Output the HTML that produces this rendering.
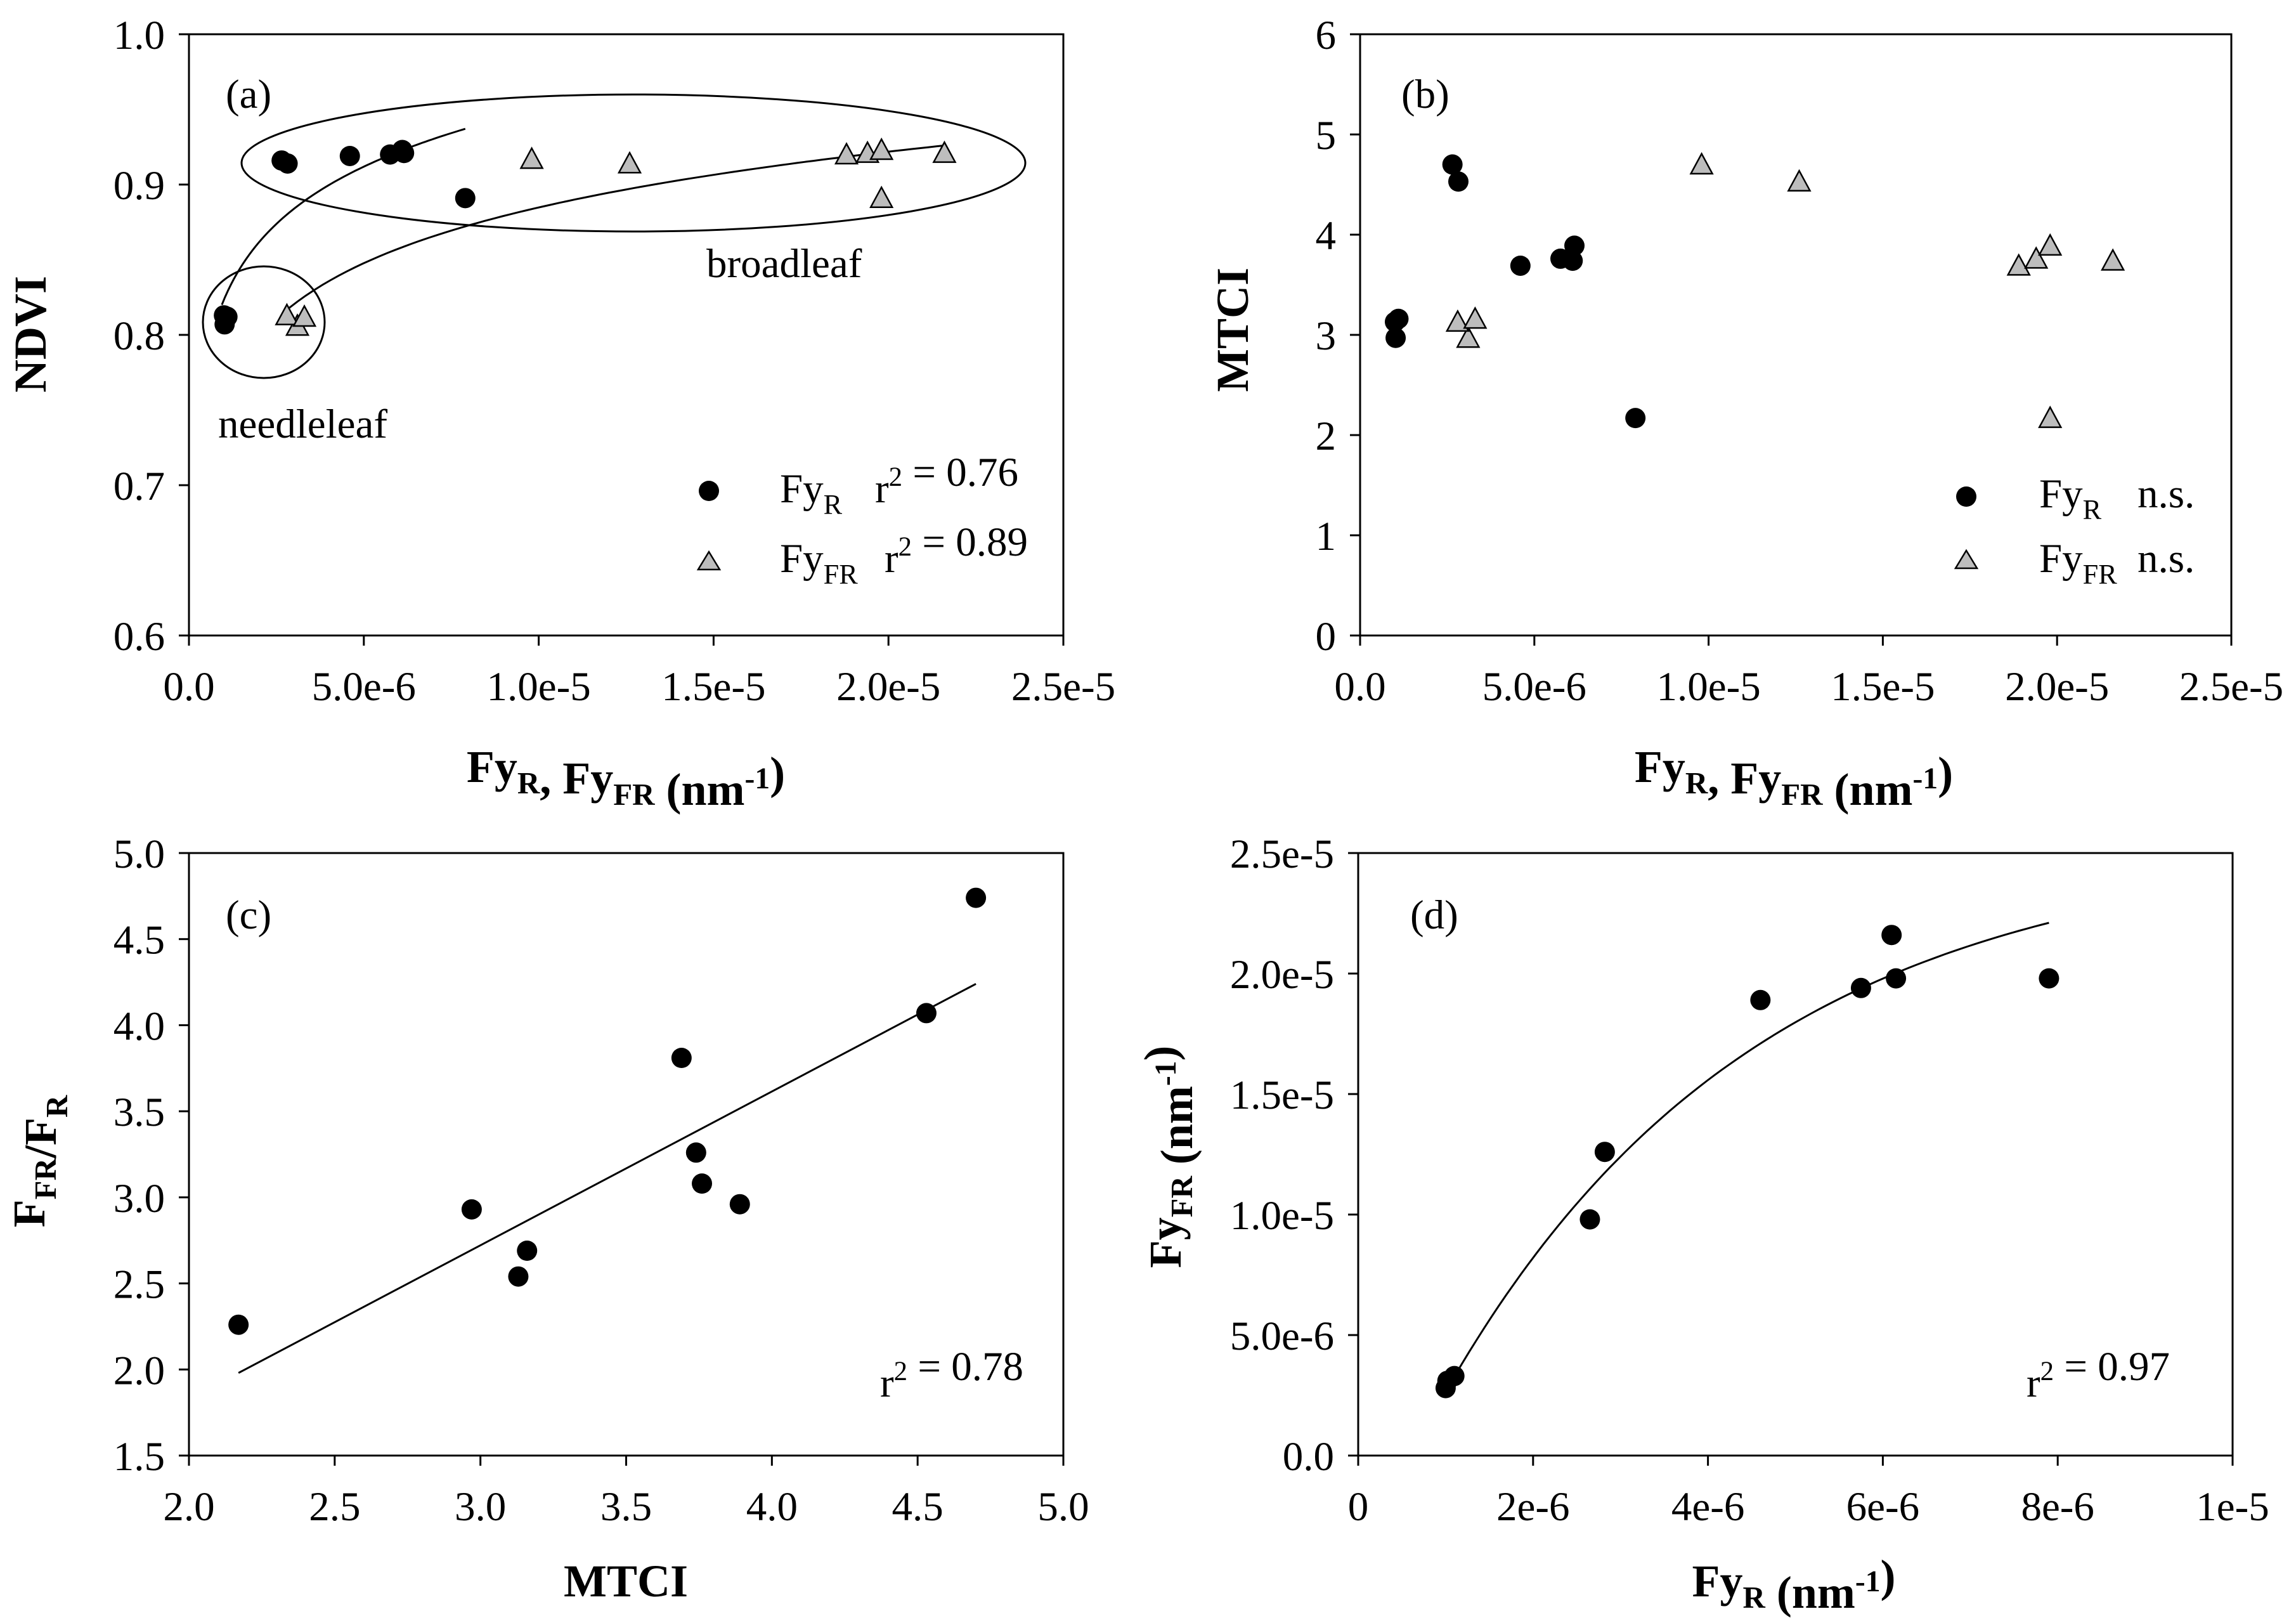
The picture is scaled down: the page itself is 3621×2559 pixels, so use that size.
<!DOCTYPE html>
<html><head><meta charset="utf-8">
<style>
html,body{margin:0;padding:0;background:#fff;}
svg{display:block;font-family:"Liberation Serif",serif;}
</style></head>
<body>
<svg id="fig" width="3621" height="2559" viewBox="0 0 3621 2559" xmlns="http://www.w3.org/2000/svg"></svg>
<script>
// ---- data ----
const fyR = [1.02, 1.0, 1.1, 2.65, 2.82, 4.6, 5.75, 6.15, 6.1, 7.9];           // e-6
const fyFR = [3.1, 2.8, 3.3, 9.8, 12.6, 18.9, 19.4, 19.8, 21.6, 19.8];         // e-6
const ndviR = [0.807, 0.813, 0.812, 0.916, 0.914, 0.919, 0.920, 0.921, 0.923, 0.891];
const ndviFR = [0.806, 0.813, 0.812, 0.917, 0.914, 0.920, 0.921, 0.923, 0.921, 0.891];
const fyFR_a = [3.1, 2.8, 3.3, 9.8, 12.6, 18.8, 19.4, 19.8, 21.6, 19.8];
const mtci = [2.97, 3.13, 3.16, 4.70, 4.53, 3.69, 3.76, 3.89, 3.74, 2.17];
const ratio = [2.93, 2.54, 2.69, 4.74, 4.07, 3.81, 3.08, 2.96, 3.26, 2.26];
const xTicksA = ["0.0","5.0e-6","1.0e-5","1.5e-5","2.0e-5","2.5e-5"];
const yTicksA = ["0.6","0.7","0.8","0.9","1.0"];
const yTicksB = ["0","1","2","3","4","5","6"];
const xTicksC = ["2.0","2.5","3.0","3.5","4.0","4.5","5.0"];
const yTicksC = ["1.5","2.0","2.5","3.0","3.5","4.0","4.5","5.0"];
const xTicksD = ["0","2e-6","4e-6","6e-6","8e-6","1e-5"];
const yTicksD = ["0.0","5.0e-6","1.0e-5","1.5e-5","2.0e-5","2.5e-5"];
// fits
const fitA_R = [0.94, 7.9, 0.820, 0.055];
const fitA_FR = [2.87, 21.6, 0.818, 0.0535];
const fitC = [2.17, 4.70, 1.98, 4.24];
const fitD = [1.1, 7.9, 25.4, 30.1, 0.28];

const NS="http://www.w3.org/2000/svg";
const svg=document.getElementById('fig');
function mk(tag,attrs,parent){const e=document.createElementNS(NS,tag);for(const k in attrs)e.setAttribute(k,attrs[k]);(parent||svg).appendChild(e);return e;}
const FS=65, TS=72;
function panel(id,L,R,T,B,xmin,xmax,ymin,ymax,xt,yt){
  const g=mk('g',{});
  
  
  const sx=v=>L+(v-xmin)/(xmax-xmin)*(R-L);
  const sy=v=>B-(v-ymin)/(ymax-ymin)*(B-T);
  const frame=mk('rect',{x:L,y:T,width:R-L,height:B-T,fill:'none',stroke:'#000','stroke-width':3},g);
  
  
  xt.forEach((lab,i)=>{
    const x=L+i*(R-L)/(xt.length-1);
    mk('line',{x1:x,y1:B,x2:x,y2:B+16,stroke:'#000','stroke-width':3},g);
    const t=mk('text',{x:x,y:B+102,'font-size':FS,'text-anchor':'middle'},g);
    t.textContent=lab;
    
    
  });
  yt.forEach((lab,i)=>{
    const y=B-i*(B-T)/(yt.length-1);
    mk('line',{x1:L-16,y1:y,x2:L,y2:y,stroke:'#000','stroke-width':3},g);
    const t=mk('text',{x:L-38,y:y+23,'font-size':FS,'text-anchor':'end'},g);
    t.textContent=lab;
    
    
  });
  return {g,sx,sy};
}
function circ(p,x,y,r){const c=mk('circle',{cx:p.sx(x),cy:p.sy(y),r:r||16,fill:'#000'},p.g);
  
  return c;}
function tri(p,x,y){const X=p.sx(x),Y=p.sy(y),s=17;
  const t=mk('polygon',{points:`${X},${Y-s} ${X+s},${Y+s*0.85} ${X-s},${Y+s*0.85}`,fill:'#bdbdbd',stroke:'#000','stroke-width':2.5},p.g);
  
  return t;}
function curve(p,f,x0,x1,name){let d='';for(let i=0;i<=80;i++){const x=x0+(x1-x0)*i/80;d+=(i?'L':'M')+p.sx(x).toFixed(1)+','+p.sy(f(x)).toFixed(1);}
  const e=mk('path',{d:d,fill:'none',stroke:'#000','stroke-width':3},p.g);
  
  return e;}
function txt(html,x,y,size,attrs,name){const t=mk('text',Object.assign({x:x,y:y,'font-size':size},attrs||{}));t.innerHTML=html;
  
  return t;}
const sub=(s)=>`<tspan dy="18" font-size="0.68em">${s}</tspan><tspan dy="-18"></tspan>`;
const sup=(s)=>`<tspan dy="-26" font-size="0.66em">${s}</tspan><tspan dy="26"></tspan>`;

// Panel a
const pa=panel('a',298,1677,54,1002,0,25,0.6,1.0,xTicksA,yTicksA);
const e1=mk('ellipse',{cx:999,cy:257,rx:618,ry:108,fill:'none',stroke:'#000','stroke-width':3},pa.g);


const e2=mk('ellipse',{cx:416,cy:508,rx:96,ry:88,fill:'none',stroke:'#000','stroke-width':3},pa.g);


curve(pa,x=>fitA_R[2]+fitA_R[3]*Math.log(x/fitA_R[0]),fitA_R[0],fitA_R[1],'fit-line-fy-r');
curve(pa,x=>fitA_FR[2]+fitA_FR[3]*Math.log(x/fitA_FR[0]),fitA_FR[0],fitA_FR[1],'fit-line-fy-fr');
fyR.forEach((x,i)=>circ(pa,x,ndviR[i]));
fyFR_a.forEach((x,i)=>tri(pa,x,ndviFR[i]));
txt('(a)',356,170,FS,{},'panel-label-a');
txt('broadleaf',1114,437,FS,{},'broadleaf-label');
txt('needleleaf',344,690,FS,{},'needleleaf-label');
const la=mk('circle',{cx:1118,cy:774,r:16,fill:'#000'});
txt('Fy'+sub('R'),1230,792,FS,{},'legend-label-fy-r');
txt('r'+sup('2')+' = 0.76',1380,792,FS,{},'legend-r2-fy-r');
const lt=mk('polygon',{points:'1118,870 1135,898 1101,898',fill:'#bdbdbd',stroke:'#000','stroke-width':2.5});
txt('Fy'+sub('FR'),1230,902,FS,{},'legend-label-fy-fr');
txt('r'+sup('2')+' = 0.89',1395,902,FS,{},'legend-r2-fy-fr');
txt('Fy'+sub('R')+', Fy'+sub('FR')+' (nm'+sup('-1')+')',987,1233,TS,{'font-weight':'bold','text-anchor':'middle'},'x-axis-title-a');
txt('NDVI',0,0,TS,{'font-weight':'bold','text-anchor':'middle',transform:'translate(72,527) rotate(-90)'},'y-axis-title-a');

// Panel b
const pb=panel('b',2145,3519,54,1002,0,25,0,6,xTicksA,yTicksB);
fyR.forEach((x,i)=>circ(pb,x,mtci[i]));
fyFR.forEach((x,i)=>tri(pb,x,mtci[i]));
txt('(b)',2210,170,FS,{},'panel-label-b');
const lb=mk('circle',{cx:3101,cy:783,r:16,fill:'#000'});
txt('Fy'+sub('R'),3216,800,FS,{},'legend-label-fy-r-b');
txt('n.s.',3371,800,FS,{},'legend-ns-fy-r');
const lt2=mk('polygon',{points:'3101,868 3118,896 3084,896',fill:'#bdbdbd',stroke:'#000','stroke-width':2.5});
txt('Fy'+sub('FR'),3216,902,FS,{},'legend-label-fy-fr-b');
txt('n.s.',3371,902,FS,{},'legend-ns-fy-fr');
txt('Fy'+sub('R')+', Fy'+sub('FR')+' (nm'+sup('-1')+')',2829,1233,TS,{'font-weight':'bold','text-anchor':'middle'},'x-axis-title-b');
txt('MTCI',0,0,TS,{'font-weight':'bold','text-anchor':'middle',transform:'translate(1968,520) rotate(-90)'},'y-axis-title-b');

// Panel c
const pc=panel('c',298,1677,1345,2295,2.0,5.0,1.5,5.0,xTicksC,yTicksC);
const lnc=mk('line',{x1:pc.sx(fitC[0]),y1:pc.sy(fitC[2]),x2:pc.sx(fitC[1]),y2:pc.sy(fitC[3]),stroke:'#000','stroke-width':3},pc.g);

mtci.forEach((x,i)=>circ(pc,x,ratio[i]));
txt('(c)',356,1464,FS,{},'panel-label-c');
txt('r'+sup('2')+' = 0.78',1388,2202,FS,{},'r2-label-c');
txt('MTCI',987,2517,TS,{'font-weight':'bold','text-anchor':'middle'},'x-axis-title-c');
txt('F'+sub('FR')+'/F'+sub('R'),0,0,TS,{'font-weight':'bold','text-anchor':'middle',transform:'translate(70,1831) rotate(-90)'},'y-axis-title-c');

// Panel d
const pd=panel('d',2142,3521,1345,2295,0,10,0,25,xTicksD,yTicksD);
curve(pd,x=>fitD[2]-fitD[3]*Math.exp(-fitD[4]*x),fitD[0],fitD[1],'fit-curve-d');
fyR.forEach((x,i)=>circ(pd,x,fyFR[i]));
txt('(d)',2224,1464,FS,{},'panel-label-d');
txt('r'+sup('2')+' = 0.97',3196,2202,FS,{},'r2-label-d');
txt('Fy'+sub('R')+' (nm'+sup('-1')+')',2829,2517,TS,{'font-weight':'bold','text-anchor':'middle'},'x-axis-title-d');
txt('Fy'+sub('FR')+' (nm'+sup('-1')+')',0,0,TS,{'font-weight':'bold','text-anchor':'middle',transform:'translate(1862,1824) rotate(-90)'},'y-axis-title-d');
</script>
</body></html>
